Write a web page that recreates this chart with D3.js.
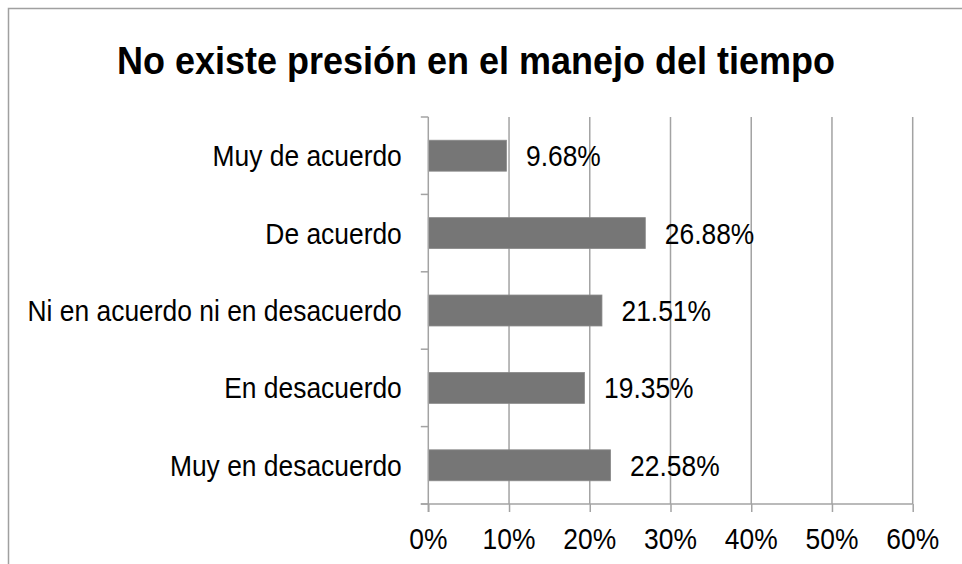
<!DOCTYPE html>
<html>
<head>
<meta charset="utf-8">
<script src="https://cdn.jsdelivr.net/npm/d3@7"></script>
<style>
  html, body { margin: 0; padding: 0; background: #fff; }
  svg { display: block; }
  text { font-family: "Liberation Sans", Arial, sans-serif; fill: #000; }
</style>
</head>
<body>
<svg id="chart" width="962" height="564"></svg>
<script>
const title = "No existe presión en el manejo del tiempo";
const categories = ["Muy de acuerdo", "De acuerdo", "Ni en acuerdo ni en desacuerdo", "En desacuerdo", "Muy en desacuerdo"];
const values = [0.0968, 0.2688, 0.2151, 0.1935, 0.2258];
const valueLabels = ["9.68%", "26.88%", "21.51%", "19.35%", "22.58%"];
const xTicks = [0, 0.1, 0.2, 0.3, 0.4, 0.5, 0.6];

const W = 962, H = 564;
const SY = 1.1; // vertical stretch of the original rendering
const FS = 26.4;
const gridColor = "#a3a3a3";
const barColor = "#767676";

const svg = d3.select("#chart");

// outer frame
svg.append("rect")
  .attr("x", 8.5).attr("y", 8.5)
  .attr("width", 970).attr("height", 600)
  .attr("fill", "none").attr("stroke", "#a0a0a0").attr("stroke-width", 1.5);

function stretchedText(g, x, y, str, size, anchor, weight) {
  return g.append("text")
    .attr("transform", `translate(${x},${y}) scale(1,${SY})`)
    .attr("text-anchor", anchor)
    .attr("font-size", size)
    .attr("font-weight", weight || "normal")
    .text(str);
}

stretchedText(svg, 476, 74, title, 36, "middle", "bold");

const plot = { left: 428.3, right: 912.7, top: 117, bottom: 504 };

const x = d3.scaleLinear().domain([0, 0.6]).range([plot.left, plot.right]);
const y = d3.scaleBand().domain(categories).range([plot.top, plot.bottom])
  .paddingInner(0.6).paddingOuter(0.3);

// gridlines
svg.append("g").selectAll("line")
  .data(xTicks.slice(1))
  .join("line")
  .attr("x1", d => x(d)).attr("x2", d => x(d))
  .attr("y1", plot.top).attr("y2", plot.bottom)
  .attr("stroke", gridColor).attr("stroke-width", 1.5);

// bars
svg.append("g").selectAll("rect")
  .data(categories)
  .join("rect")
  .attr("x", x(0))
  .attr("y", d => y(d))
  .attr("width", (d, i) => x(values[i]) - x(0))
  .attr("height", y.bandwidth())
  .attr("fill", barColor)
  .attr("stroke", "#8a8a8a").attr("stroke-width", 0.8);

// x axis
const xAxis = svg.append("g")
  .attr("transform", `translate(0,${plot.bottom})`)
  .call(d3.axisBottom(x).tickValues(xTicks).tickSize(8).tickSizeOuter(0).tickFormat(() => ""));
xAxis.select(".domain").remove();
xAxis.selectAll(".tick line").attr("stroke", gridColor).attr("stroke-width", 1.5);
svg.append("line")
  .attr("x1", plot.left - 7.5).attr("x2", plot.right)
  .attr("y1", plot.bottom).attr("y2", plot.bottom)
  .attr("stroke", gridColor).attr("stroke-width", 1.5);
xTicks.forEach(t => stretchedText(svg, x(t), 549, d3.format(".0%")(t), FS, "middle"));

// y axis line and category separator ticks
svg.append("line")
  .attr("x1", plot.left).attr("x2", plot.left)
  .attr("y1", plot.top).attr("y2", plot.bottom + 8)
  .attr("stroke", gridColor).attr("stroke-width", 1.5);
const step = y.step();
const bounds = d3.range(categories.length + 1).map(i => plot.top + i * step);
svg.append("g").selectAll("line")
  .data(bounds)
  .join("line")
  .attr("x1", plot.left - 7.5).attr("x2", plot.left)
  .attr("y1", d => d).attr("y2", d => d)
  .attr("stroke", gridColor).attr("stroke-width", 1.5);

// category labels
categories.forEach(c => {
  stretchedText(svg, plot.left - 26.5, y(c) + y.bandwidth() / 2 + 10.5, c, FS, "end");
});

// value labels
categories.forEach((c, i) => {
  stretchedText(svg, x(values[i]) + 19.5, y(c) + y.bandwidth() / 2 + 10.5, valueLabels[i], FS, "start");
});
</script>
</body>
</html>
